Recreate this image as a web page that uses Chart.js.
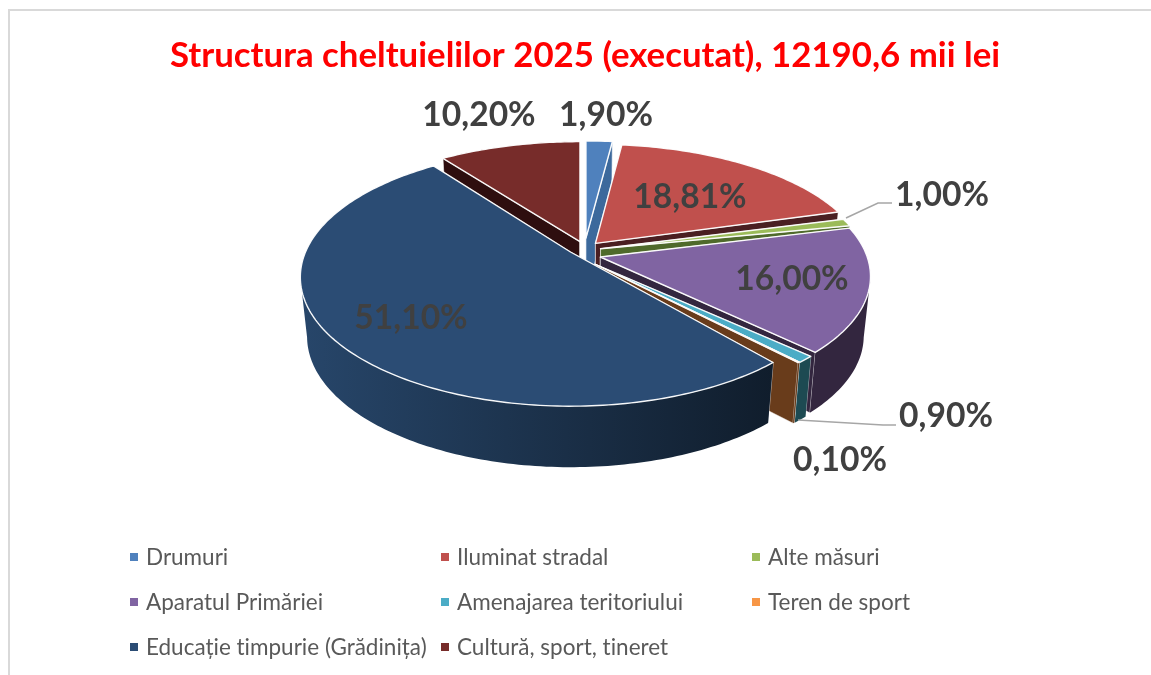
<!DOCTYPE html>
<html><head><meta charset="utf-8">
<script src="https://cdn.jsdelivr.net/npm/chart.js@4"></script>
<style>
html,body{margin:0;padding:0;background:#fff;width:1151px;height:675px;overflow:hidden}
#c{position:absolute;left:0;top:0}
#frame{position:absolute;left:8px;top:9px;width:1143px;height:666px;border-left:2px solid #D9D9D9;border-top:2px solid #D9D9D9;box-sizing:border-box}
#legend{position:absolute;left:130px;top:534px;display:grid;grid-template-columns:311px 311px 311px;grid-auto-rows:45px;font:22.5px Lato,sans-serif;font-variant-ligatures:none;color:#595959}
#legend div{display:flex;align-items:center;white-space:nowrap}
#legend i{display:block;width:8px;height:8px;margin-right:8px}
</style></head><body>
<div id="frame"></div>
<canvas id="c" width="1151" height="675"></canvas>
<div id="legend"></div>
<script>
const categories = ["Drumuri","Iluminat stradal","Alte măsuri","Aparatul Primăriei","Amenajarea teritoriului","Teren de sport","Educație timpurie (Grădinița)","Cultură, sport, tineret"];
const values = [1.90,18.81,1.00,16.00,0.90,0.10,51.10,10.20];
const titleText = "Structura cheltuielilor 2025 (executat), 12190,6 mii lei";

const topColors  = ["#4F81BD","#C0504D","#9BBB59","#8064A2","#4BACC6","#F79646","#2B4C74","#772C2A"];
const faceColors = ["#3C699C","#4A1F22","#4F6A2B","#33263F","#1D4A52","#693C1B","#1A3049","#2E0E0F"];
const wallLeft   = ["#3C699C","#4A1F22","#4F6A2B","#33263F","#1D4A52","#693C1B","#27466A","#2E0E0F"];
const wallRight  = ["#3C699C","#4A1F22","#4F6A2B","#33263F","#1D4A52","#693C1B","#101D2C","#2E0E0F"];
const drawOrder  = [7,0,1,2,3,4,5,6];

// view of the tilted pie (perspective projection of a flat disc)
const view = {cx:585, cy:252, rx:265, ry:116, p:0.195, depth:59, shrink:0.975, ex:16, ey:14};
const liftY   = [1,1,1,0,0.75,0.7,0,1];
const stretch = [1,1,1,1.04,1,1,1.07,1];
const nudgeX  = [0,0,0,0,0,0,-2,0];
const apexDrop = [0,2,0,5,5,5,0,3];

// label anchors (centres of the value labels) and leader lines
const labelAt = [[606,115],[690,197],[942,195],[792,279],[946,416],[840,460],[411,318],[479,115]];
const leaders = [null,null,[[846,218],[878,203],[892,203]],null,[[798,420],[883,425],[896,425]],null,null,null];

const fmt = v => v.toFixed(2).replace('.',',') + '%';

function projector(el, i){
  const mid = (el.startAngle + el.endAngle)/2;
  const dx = view.ex*Math.cos(mid) + nudgeX[i], dy = view.ey*Math.sin(mid)*liftY[i];
  return (a, r) => {
    const u = r*Math.cos(a), v = r*Math.sin(a), w = 1 - view.p*v;
    return [view.cx + view.rx*u/w + dx, view.cy + stretch[i]*view.ry*v/w + dy];
  };
}
function down(pt, ax, v){
  return [ax + (pt[0]-ax)*view.shrink, pt[1] + view.depth + 2*v];
}
function poly(ctx, pts){
  ctx.beginPath();
  pts.forEach((p,k)=> k ? ctx.lineTo(p[0],p[1]) : ctx.moveTo(p[0],p[1]));
  ctx.closePath();
}
const pie3d = {
  id:'pie3d',
  beforeDatasetsDraw(chart){
    const ctx = chart.ctx, arcs = chart.getDatasetMeta(0).data;
    ctx.save();
    ctx.lineJoin = 'round';
    drawOrder.forEach(i=>{
      const el = arcs[i], P = projector(el,i), s = el.startAngle, e = el.endAngle;
      const a0 = P(0,0), apex = [a0[0], a0[1] + apexDrop[i]], ax = apex[0];
      const rim = [];
      const n = Math.max(2, Math.ceil((e-s)/(Math.PI/180)));
      for(let k=0;k<=n;k++) rim.push(s+(e-s)*k/n);
      // radial cut faces
      [s,e].forEach(a=>{
        const o = P(a,1);
        const f = [apex,o,down(o,ax,Math.sin(a)),down(apex,ax,0)];
        poly(ctx,f);
        ctx.fillStyle = faceColors[i]; ctx.fill();
        ctx.strokeStyle = 'rgba(255,255,255,.75)'; ctx.lineWidth = 0.8; ctx.stroke();
      });
      // outer wall, only where it faces the viewer
      const vis = rim.filter(a=>Math.sin(a) >= view.p);
      if(vis.length>1){
        const t = vis.map(a=>P(a,1)), b = vis.map(a=>down(P(a,1),ax,Math.sin(a))).reverse();
        const xs = t.map(q=>q[0]);
        const g = ctx.createLinearGradient(Math.min(...xs),0,Math.max(...xs),0);
        g.addColorStop(0,wallLeft[i]); g.addColorStop(1,wallRight[i]);
        poly(ctx,t.concat(b));
        ctx.fillStyle = g; ctx.fill();
      }
      // top face
      poly(ctx,[apex].concat(rim.map(a=>P(a,1))));
      ctx.fillStyle = topColors[i]; ctx.fill();
      ctx.strokeStyle = 'rgba(255,255,255,.95)'; ctx.lineWidth = 1.4; ctx.stroke();
    });
    ctx.restore();
    return false;
  },
  afterDraw(chart){
    const ctx = chart.ctx;
    ctx.save();
    ctx.strokeStyle = '#A6A6A6'; ctx.lineWidth = 1.5;
    leaders.forEach(l=>{
      if(!l) return;
      ctx.beginPath();
      l.forEach((p,k)=> k ? ctx.lineTo(p[0],p[1]) : ctx.moveTo(p[0],p[1]));
      ctx.stroke();
    });
    ctx.font = 'bold 33.6px Lato, sans-serif';
    ctx.fillStyle = '#404040'; ctx.textAlign = 'center'; ctx.textBaseline = 'middle';
    values.forEach((v,i)=> ctx.fillText(fmt(v), labelAt[i][0], labelAt[i][1]));
    ctx.restore();
  }
};

new Chart(document.getElementById('c'),{
  type:'pie',
  data:{labels:categories,datasets:[{data:values,backgroundColor:topColors}]},
  plugins:[pie3d],
  options:{
    responsive:false,animation:false,
    layout:{padding:{left:19}},
    plugins:{
      legend:{display:false},tooltip:{enabled:false},
      title:{display:true,text:titleText,color:'#FF0000',font:{family:'Lato, sans-serif',size:34.8,weight:'bold'},padding:{top:35,bottom:10}}
    }
  }
});
const lg = document.getElementById('legend');
categories.forEach((c,i)=>{
  const d = document.createElement('div');
  const m = document.createElement('i'); m.style.background = topColors[i];
  d.appendChild(m); d.appendChild(document.createTextNode(c)); lg.appendChild(d);
});
</script>
</body></html>
